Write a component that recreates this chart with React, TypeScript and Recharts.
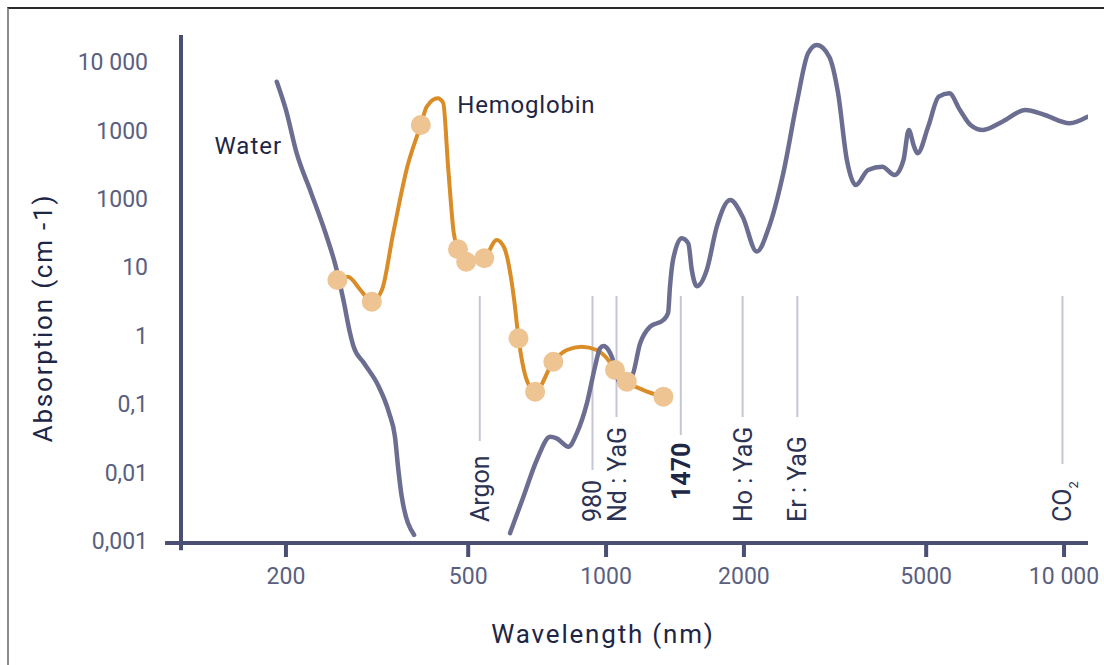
import React from 'react'
import {
  ComposedChart,
  Line,
  Scatter,
  XAxis,
  YAxis,
  ReferenceLine,
  ReferenceDot,
} from 'recharts'

// water absorption, UV side (wavelength nm / absorption cm-1)
const waterUvWavelength = [191, 200, 211, 227, 244, 257, 267, 276, 281, 296, 319, 336, 346, 352, 358, 381]
const waterUvAbsorption = [5150, 1990, 468, 122, 31.6, 10.2, 3.31, 1.09, 0.689, 0.397, 0.179, 0.0738, 0.0333, 0.0108, 0.00441, 0.00122]

// water absorption, visible + IR side
const waterIrWavelength = [
  617, 660, 706, 755, 780, 828, 863, 908, 946, 970, 987, 1012, 1029, 1073, 1138, 1187, 1248, 1334, 1366, 1379,
  1400, 1463, 1512, 1539, 1578, 1659, 1745, 1867, 1987, 2133, 2270, 2438, 2616, 2761, 2886, 3071, 3210, 3356,
  3510, 3733, 4009, 4265, 4461, 4581, 4705, 4788, 5050, 5326, 5617, 5925, 6249, 6651, 7333, 8232, 9075, 10275, 11230,
]
const waterIrAbsorption = [
  0.00129, 0.00441, 0.0152, 0.0333, 0.0315, 0.0238, 0.0373, 0.102, 0.351, 0.652, 0.705, 0.616, 0.492, 0.203, 0.251,
  0.772, 1.35, 1.69, 2.14, 5.19, 12.7, 26.5, 22.3, 9.1, 5.26, 9.1, 39.1, 95.9, 54.7, 16.9, 39.1, 238, 2782, 13400,
  17720, 11950, 3525, 369, 159, 264, 294, 223, 369, 1014, 578, 462, 1132, 3114, 3483, 1986, 1200, 1014, 1340, 1986,
  1679, 1271, 1571,
]

// hemoglobin curve, and which of its points are measured (drawn as dots)
const hbWavelength = [
  259, 273, 291, 308, 324, 343, 368, 394, 406, 429, 441, 452, 465, 475, 495, 542, 577, 598, 630, 644, 671, 700,
  767, 821, 885, 954, 1004, 1046, 1110, 1206, 1334,
]
const hbAbsorption = [
  6.5, 7.26, 4.64, 3.13, 4.64, 31.6, 292, 1200, 2220, 2940, 2520, 292, 31.6, 18.3, 12.0, 13.5, 25.0, 19.9, 3.31,
  0.913, 0.224, 0.151, 0.415, 0.616, 0.689, 0.616, 0.466, 0.314, 0.212, 0.16, 0.128,
]
const hbMeasured = [0, 3, 7, 13, 14, 15, 19, 21, 22, 27, 28, 30]

// laser lines
const laserWavelength = [530, 934, 1054, 1456, 1987, 2616, 9920]
const laserLabel = ['Argon', '980', 'Nd : YaG', '1470', 'Ho : YaG', 'Er : YaG', 'CO2']
const highlightLaser = '1470'

const xTicks = [200, 500, 1000, 2000, 5000, 10000]
const xTickLabels = ['200', '500', '1000', '2000', '5000', '10 000']
const yTicks = [0.001, 0.01, 0.1, 1, 10, 100, 1000, 10000]
const yTickLabels = ['0,001', '0,01', '0,1', '1', '10', '1000', '1000', '10 000']

const X_MIN = 118
const X_MAX = 11280
const Y_MIN = 0.000929
const Y_MAX = 24810

const FONT = 'Roboto, sans-serif'
const AXIS = '#4a4f73'
const WATER = '#6b6e90'
const HB = '#da8c26'
const HB_DOT = '#eec492'
const TICK_TEXT = '#5a6080'
const DARK = '#1e2646'

const zip = (xs: number[], ys: number[]) => xs.map((wl, i) => ({ wl, abs: ys[i] }))

const waterUv = zip(waterUvWavelength, waterUvAbsorption)
const waterIr = zip(waterIrWavelength, waterIrAbsorption)
const hemoglobin = zip(hbWavelength, hbAbsorption)
const hbDots = hbMeasured.map((i) => hemoglobin[i])

// rough text length of a rotated laser label, used to stop the guide line above it
const labelLength = (s: string) =>
  s.split('').reduce((acc, c) => acc + (c === ' ' ? 6 : c === ':' ? 6 : /[A-Z]/.test(c) ? 16 : 13), 0)

function laserShape(label: string) {
  const bold = label === highlightLaser
  return (p: any) => {
    const x = p.x1
    const bottom = bold ? 500 : 522
    const lineEnd = bottom - labelLength(label) - 13
    const sub = label.match(/^([A-Za-z]+)(\d+)$/)
    return (
      <g>
        <line x1={x} x2={x} y1={296} y2={lineEnd} stroke="#c4c6d6" strokeWidth={2} />
        <text
          transform={`translate(${x + 9},${bottom}) rotate(-90)`}
          fontFamily={FONT}
          fontSize={25}
          fontWeight={bold ? 700 : 400}
          fill={bold ? DARK : '#2c3252'}
        >
          {sub ? (
            <>
              {sub[1]}
              <tspan fontSize={13} dy={7}>
                {sub[2]}
              </tspan>
            </>
          ) : (
            label
          )}
        </text>
      </g>
    )
  }
}

export default function App() {
  return (
    <div style={{ position: 'absolute', left: 0, top: 0, width: 1104, height: 665, overflow: 'hidden', background: '#fff' }}>
      <div
        style={{
          position: 'absolute',
          left: 7,
          top: 7,
          width: 1097,
          height: 658,
          boxSizing: 'border-box',
          borderTop: '2px solid #2b2b2b',
          borderLeft: '2px solid #8c8c8c',
        }}
      />
      <ComposedChart width={1104} height={665} margin={{ top: 35, right: 16, bottom: 0, left: 0 }}>
        <XAxis
          dataKey="wl"
          type="number"
          scale="log"
          domain={[X_MIN, X_MAX]}
          allowDataOverflow
          ticks={xTicks}
          interval={0}
          tickFormatter={(v: number) => xTickLabels[xTicks.indexOf(v)] ?? String(v)}
          height={122}
          axisLine={false}
          tickLine={{ stroke: AXIS, strokeWidth: 4 }}
          tickSize={14}
          tickMargin={11}
          tick={{ fill: TICK_TEXT, fontSize: 23, fontFamily: FONT }}
          label={(p: any) => {
            const vb = p.viewBox || { x: 181, y: 543 }
            return (
              <text
                x={vb.x + 422}
                y={vb.y + 100}
                textAnchor="middle"
                fontFamily={FONT}
                fontSize={26}
                letterSpacing={1.8}
                fill={DARK}
              >
                Wavelength (nm)
              </text>
            )
          }}
        />
        <YAxis
          dataKey="abs"
          type="number"
          scale="log"
          domain={[Y_MIN, Y_MAX]}
          allowDataOverflow
          ticks={yTicks}
          interval={0}
          tickFormatter={(v: number) => yTickLabels[yTicks.indexOf(v)] ?? String(v)}
          width={181}
          axisLine={false}
          tickLine={false}
          tickSize={0}
          tickMargin={33}
          tick={{ fill: TICK_TEXT, fontSize: 23, fontFamily: FONT }}
          label={(p: any) => {
            const vb = p.viewBox || { x: 0, y: 35 }
            return (
              <text
                transform={`translate(${vb.x + 52},${vb.y + 283}) rotate(-90)`}
                textAnchor="middle"
                fontFamily={FONT}
                fontSize={26}
                letterSpacing={1.8}
                fill={DARK}
              >
                Absorption (cm -1)
              </text>
            )
          }}
        />

        {laserWavelength.map((wl, i) => (
          <ReferenceLine key={laserLabel[i]} x={wl} ifOverflow="visible" shape={laserShape(laserLabel[i])} />
        ))}

        <ReferenceLine
          segment={[{ x: 108.9, y: Y_MIN }, { x: X_MAX, y: Y_MIN }]}
          stroke={AXIS}
          strokeWidth={4}
          ifOverflow="visible"
        />
        <ReferenceLine
          segment={[{ x: X_MIN, y: Y_MAX }, { x: X_MIN, y: 0.00073 }]}
          stroke={AXIS}
          strokeWidth={4}
          ifOverflow="visible"
        />

        <Line
          data={hemoglobin}
          dataKey="abs"
          type="monotone"
          stroke={HB}
          strokeWidth={4}
          dot={false}
          activeDot={false}
          isAnimationActive={false}
        />
        <Line
          data={waterUv}
          dataKey="abs"
          type="monotone"
          stroke={WATER}
          strokeWidth={4.5}
          strokeLinecap="round"
          dot={false}
          activeDot={false}
          isAnimationActive={false}
        />
        <Line
          data={waterIr}
          dataKey="abs"
          type="monotone"
          stroke={WATER}
          strokeWidth={4.5}
          strokeLinecap="round"
          dot={false}
          activeDot={false}
          isAnimationActive={false}
        />
        <Scatter
          data={hbDots}
          dataKey="abs"
          isAnimationActive={false}
          shape={(p: any) => <circle cx={p.cx} cy={p.cy} r={10} fill={HB_DOT} />}
        />

        <ReferenceDot
          x={waterUvWavelength[2]}
          y={waterUvAbsorption[2]}
          r={1}
          ifOverflow="visible"
          shape={(p: any) => (
            <text x={p.cx - 14.5} y={p.cy + 1} textAnchor="end" fontFamily={FONT} fontSize={24} letterSpacing={1} fill={DARK}>
              Water
            </text>
          )}
        />
        <ReferenceDot
          x={hbWavelength[9]}
          y={hbAbsorption[9]}
          r={1}
          ifOverflow="visible"
          shape={(p: any) => (
            <text x={p.cx + 19.5} y={p.cy + 14.6} fontFamily={FONT} fontSize={24} letterSpacing={0.8} fill={DARK}>
              Hemoglobin
            </text>
          )}
        />
      </ComposedChart>
    </div>
  )
}
